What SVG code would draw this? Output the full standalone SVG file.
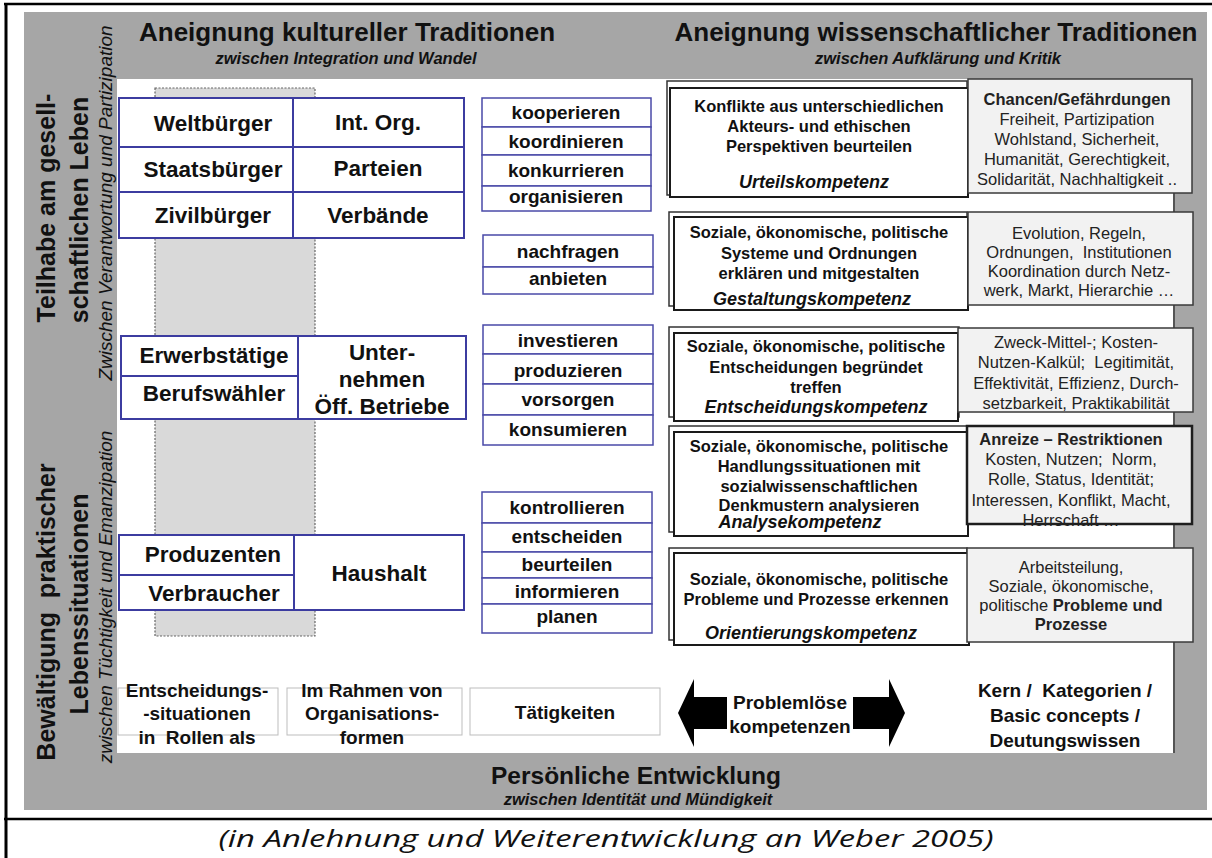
<svg xmlns="http://www.w3.org/2000/svg" width="1212" height="858" viewBox="0 0 1212 858">
<style>
text{font-family:"Liberation Sans",Arial,sans-serif;fill:#111;white-space:pre}
.title{font-size:26px;font-weight:bold;text-anchor:middle}
.sub{font-size:16.5px;font-weight:bold;font-style:italic;text-anchor:middle}
.vt{font-size:25px;font-weight:bold;text-anchor:middle}
.vi{font-size:19px;font-style:italic;text-anchor:middle}
.role{font-size:22.5px;font-weight:bold;text-anchor:middle}
.act{font-size:19px;font-weight:bold;text-anchor:middle}
.comp{font-size:16.5px;font-weight:bold;text-anchor:middle}
.compi{font-size:18px;font-weight:bold;font-style:italic;text-anchor:middle}
.info{font-size:16.5px;text-anchor:middle;fill:#222}
.b{font-weight:bold}
.lbl{font-size:19px;font-weight:bold;text-anchor:middle}
.cap{font-family:"Open Sans","Noto Sans",sans-serif;font-size:24px;font-style:italic;text-anchor:middle}
.rb{fill:#fff;stroke:#3c3ca0;stroke-width:2}
.ab{fill:#fff;stroke:#4a4aa8;stroke-width:1.5}
.back{fill:#fff;stroke:#333;stroke-width:1.5}
.front{fill:#fff;stroke:#1a1a1a;stroke-width:2}
.ib{fill:#f2f2f2;stroke:#3a3a3a;stroke-width:1.5}
.lb{fill:#fff;stroke:#bdbdbd;stroke-width:1}
</style>

<g id="frame">
<rect x="0" y="0" width="1212" height="858" fill="#fff"/>
<rect x="24" y="12" width="1183" height="798" fill="#a6a6a6"/>
<rect x="117" y="79" width="1057" height="674" fill="#fff"/>
<line x1="1174" y1="79" x2="1174" y2="753" stroke="#555" stroke-width="2"/>
<line x1="4" y1="4" x2="1212" y2="4" stroke="#000" stroke-width="2.5"/>
<line x1="6" y1="3" x2="6" y2="858" stroke="#000" stroke-width="3"/>
<line x1="4" y1="819" x2="1212" y2="819" stroke="#000" stroke-width="2.5"/>
</g>

<g id="headers">
<text class="title" x="347" y="41">Aneignung kultureller Traditionen</text>
<text class="sub" x="346" y="64">zwischen Integration und Wandel</text>
<text class="title" x="936" y="41">Aneignung wissenschaftlicher Traditionen</text>
<text class="sub" x="938" y="64">zwischen Aufklärung und Kritik</text>
<text class="title" x="636" y="784" style="font-size:24.5px">Persönliche Entwicklung</text>
<text class="sub" x="638" y="805">zwischen Identität und Mündigkeit</text>
<text class="cap" x="606" y="847" textLength="775" lengthAdjust="spacingAndGlyphs">(in Anlehnung und Weiterentwicklung an Weber 2005)</text>
</g>

<g id="side-labels">
<text class="vt" transform="translate(55,208) rotate(-90)">Teilhabe am gesell-</text>
<text class="vt" transform="translate(88,210) rotate(-90)">schaftlichen Leben</text>
<text class="vi" transform="translate(112,203) rotate(-90)">Zwischen Verantwortung und Partizipation</text>
<text class="vt" transform="translate(55,612) rotate(-90)">Bewältigung  praktischer</text>
<text class="vt" transform="translate(88,604) rotate(-90)">Lebenssituationen</text>
<text class="vi" transform="translate(112,597) rotate(-90)">zwischen Tüchtigkeit und Emanzipation</text>
</g>

<g id="role-column-bg">
<rect x="155" y="88" width="160" height="548" fill="#d9d9d9" stroke="#666" stroke-width="1.2" stroke-dasharray="2 1.5"/>
</g>

<g id="roles-citizens">
<rect class="rb" x="119" y="98" width="174" height="49"/>
<rect class="rb" x="119" y="147" width="174" height="45"/>
<rect class="rb" x="119" y="192" width="174" height="46"/>
<rect class="rb" x="293" y="98" width="171" height="49"/>
<rect class="rb" x="293" y="147" width="171" height="45"/>
<rect class="rb" x="293" y="192" width="171" height="46"/>
<text class="role" x="213" y="131">Weltbürger</text>
<text class="role" x="213" y="177">Staatsbürger</text>
<text class="role" x="213" y="223">Zivilbürger</text>
<text class="role" x="378" y="130">Int. Org.</text>
<text class="role" x="378" y="176">Parteien</text>
<text class="role" x="378" y="223">Verbände</text>
</g>

<g id="roles-work">
<rect class="rb" x="121" y="336" width="177" height="40"/>
<rect class="rb" x="121" y="376" width="177" height="43"/>
<rect class="rb" x="298" y="336" width="168" height="83"/>
<text class="role" x="214" y="363">Erwerbstätige</text>
<text class="role" x="214" y="401">Berufswähler</text>
<text class="role" x="382" y="360">Unter-</text>
<text class="role" x="382" y="387">nehmen</text>
<text class="role" x="382" y="414">Öff. Betriebe</text>
</g>

<g id="roles-household">
<rect class="rb" x="119" y="535" width="175" height="40"/>
<rect class="rb" x="119" y="575" width="175" height="35"/>
<rect class="rb" x="294" y="535" width="170" height="75"/>
<text class="role" x="213" y="562">Produzenten</text>
<text class="role" x="214" y="601">Verbraucher</text>
<text class="role" x="379" y="581">Haushalt</text>
</g>

<g id="activities-1">
<rect class="ab" x="482" y="98" width="169" height="29"/>
<rect class="ab" x="482" y="127" width="169" height="28"/>
<rect class="ab" x="482" y="155" width="169" height="31"/>
<rect class="ab" x="482" y="186" width="169" height="25"/>
<text class="act" x="566" y="119">kooperieren</text>
<text class="act" x="566" y="148">koordinieren</text>
<text class="act" x="566" y="177">konkurrieren</text>
<text class="act" x="566" y="203">organisieren</text>
</g>

<g id="activities-2">
<rect class="ab" x="483" y="235" width="170" height="32"/>
<rect class="ab" x="483" y="267" width="170" height="27"/>
<text class="act" x="568" y="258">nachfragen</text>
<text class="act" x="568" y="285">anbieten</text>
</g>

<g id="activities-3">
<rect class="ab" x="483" y="325" width="170" height="29"/>
<rect class="ab" x="483" y="354" width="170" height="30"/>
<rect class="ab" x="483" y="384" width="170" height="31"/>
<rect class="ab" x="483" y="415" width="170" height="30"/>
<text class="act" x="568" y="347">investieren</text>
<text class="act" x="568" y="377">produzieren</text>
<text class="act" x="568" y="406">vorsorgen</text>
<text class="act" x="568" y="436">konsumieren</text>
</g>

<g id="activities-4">
<rect class="ab" x="482" y="492" width="170" height="31"/>
<rect class="ab" x="482" y="523" width="170" height="29"/>
<rect class="ab" x="482" y="552" width="170" height="26"/>
<rect class="ab" x="482" y="578" width="170" height="26"/>
<rect class="ab" x="482" y="604" width="170" height="29"/>
<text class="act" x="567" y="514">kontrollieren</text>
<text class="act" x="567" y="543">entscheiden</text>
<text class="act" x="567" y="571">beurteilen</text>
<text class="act" x="567" y="598">informieren</text>
<text class="act" x="567" y="623">planen</text>
</g>

<g id="comp-urteil">
<rect class="back" x="667" y="81" width="300" height="114"/>
<rect class="front" x="670" y="88" width="298" height="109"/>
<rect class="ib" x="968" y="79" width="224" height="114"/>
<text class="comp" x="819" y="112">Konflikte aus unterschiedlichen</text>
<text class="comp" x="819" y="132">Akteurs- und ethischen</text>
<text class="comp" x="819" y="152">Perspektiven beurteilen</text>
<text class="compi" x="814" y="188">Urteilskompetenz</text>
<text class="info b" x="1077" y="105">Chancen/Gefährdungen</text>
<text class="info" x="1077" y="125">Freiheit, Partizipation</text>
<text class="info" x="1077" y="145">Wohlstand, Sicherheit,</text>
<text class="info" x="1077" y="165">Humanität, Gerechtigkeit,</text>
<text class="info" x="1077" y="185">Solidarität, Nachhaltigkeit ..</text>
</g>

<g id="comp-gestaltung">
<rect class="back" x="669" y="212" width="298" height="94"/>
<rect class="front" x="674" y="217" width="294" height="93"/>
<rect class="ib" x="968" y="212" width="225" height="93"/>
<text class="comp" x="819" y="238">Soziale, ökonomische, politische</text>
<text class="comp" x="819" y="259">Systeme und Ordnungen</text>
<text class="comp" x="819" y="279">erklären und mitgestalten</text>
<text class="compi" x="812" y="305">Gestaltungskompetenz</text>
<text class="info" x="1079" y="239">Evolution, Regeln,</text>
<text class="info" x="1079" y="258">Ordnungen,  Institutionen</text>
<text class="info" x="1079" y="277">Koordination durch Netz-</text>
<text class="info" x="1079" y="296">werk, Markt, Hierarchie …</text>
</g>

<g id="comp-entscheidung">
<rect class="back" x="669" y="327" width="290" height="90"/>
<rect class="front" x="674" y="333" width="284" height="88"/>
<rect class="ib" x="958" y="328" width="235" height="84"/>
<text class="comp" x="816" y="352">Soziale, ökonomische, politische</text>
<text class="comp" x="816" y="373">Entscheidungen begründet</text>
<text class="comp" x="816" y="393">treffen</text>
<text class="compi" x="816" y="413">Entscheidungskompetenz</text>
<text class="info" x="1076" y="348">Zweck-Mittel-; Kosten-</text>
<text class="info" x="1076" y="368">Nutzen-Kalkül;  Legitimität,</text>
<text class="info" x="1076" y="389">Effektivität, Effizienz, Durch-</text>
<text class="info" x="1076" y="409">setzbarkeit, Praktikabilität</text>
</g>

<g id="comp-analyse">
<rect class="back" x="669" y="426" width="298" height="106"/>
<rect class="front" x="674" y="432" width="294" height="104"/>
<rect class="ib" x="967" y="426" width="225" height="98" style="stroke:#1e1e1e;stroke-width:2.5"/>
<text class="comp" x="819" y="452">Soziale, ökonomische, politische</text>
<text class="comp" x="819" y="472">Handlungssituationen mit</text>
<text class="comp" x="819" y="492">sozialwissenschaftlichen</text>
<text class="comp" x="819" y="511">Denkmustern analysieren</text>
<text class="compi" x="800" y="528">Analysekompetenz</text>
<text class="info b" x="1071" y="445">Anreize – Restriktionen</text>
<text class="info" x="1071" y="465">Kosten, Nutzen;  Norm,</text>
<text class="info" x="1071" y="485">Rolle, Status, Identität;</text>
<text class="info" x="1071" y="506">Interessen, Konflikt, Macht,</text>
<text class="info" x="1071" y="526">Herrschaft …</text>
</g>

<g id="comp-orientierung">
<rect class="back" x="669" y="548" width="298" height="92"/>
<rect class="front" x="674" y="553" width="295" height="92"/>
<rect class="ib" x="967" y="548" width="226" height="94"/>
<text class="comp" x="819" y="585">Soziale, ökonomische, politische</text>
<text class="comp" x="816" y="605">Probleme und Prozesse erkennen</text>
<text class="compi" x="811" y="639">Orientierungskompetenz</text>
<text class="info" x="1071" y="573">Arbeitsteilung,</text>
<text class="info" x="1071" y="592">Soziale, ökonomische,</text>
<text class="info" x="1071" y="611">politische <tspan class="b">Probleme und</tspan></text>
<text class="info b" x="1071" y="630">Prozesse</text>
</g>

<g id="legend-row">
<rect class="lb" x="118" y="688" width="160" height="47"/>
<rect class="lb" x="287" y="688" width="175" height="47"/>
<rect class="lb" x="470" y="688" width="190" height="47"/>
<text class="lbl" x="197" y="697">Entscheidungs-</text>
<text class="lbl" x="197" y="720">-situationen</text>
<text class="lbl" x="197" y="744">in  Rollen als</text>
<text class="lbl" x="372" y="697">Im Rahmen von</text>
<text class="lbl" x="372" y="720">Organisations-</text>
<text class="lbl" x="372" y="744">formen</text>
<text class="lbl" x="565" y="719">Tätigkeiten</text>
<text class="lbl" x="790" y="709">Problemlöse</text>
<text class="lbl" x="790" y="733">kompetenzen</text>
<text class="lbl" x="1065" y="697">Kern /  Kategorien /</text>
<text class="lbl" x="1065" y="722">Basic concepts /</text>
<text class="lbl" x="1065" y="747">Deutungswissen</text>
</g>

<g id="connectors">
<polygon points="678,713 694,679 694,697 727,697 727,729 694,729 694,747" fill="#000"/>
<polygon points="905,713 889,679 889,697 853,697 853,729 889,729 889,747" fill="#000"/>
</g>
</svg>
